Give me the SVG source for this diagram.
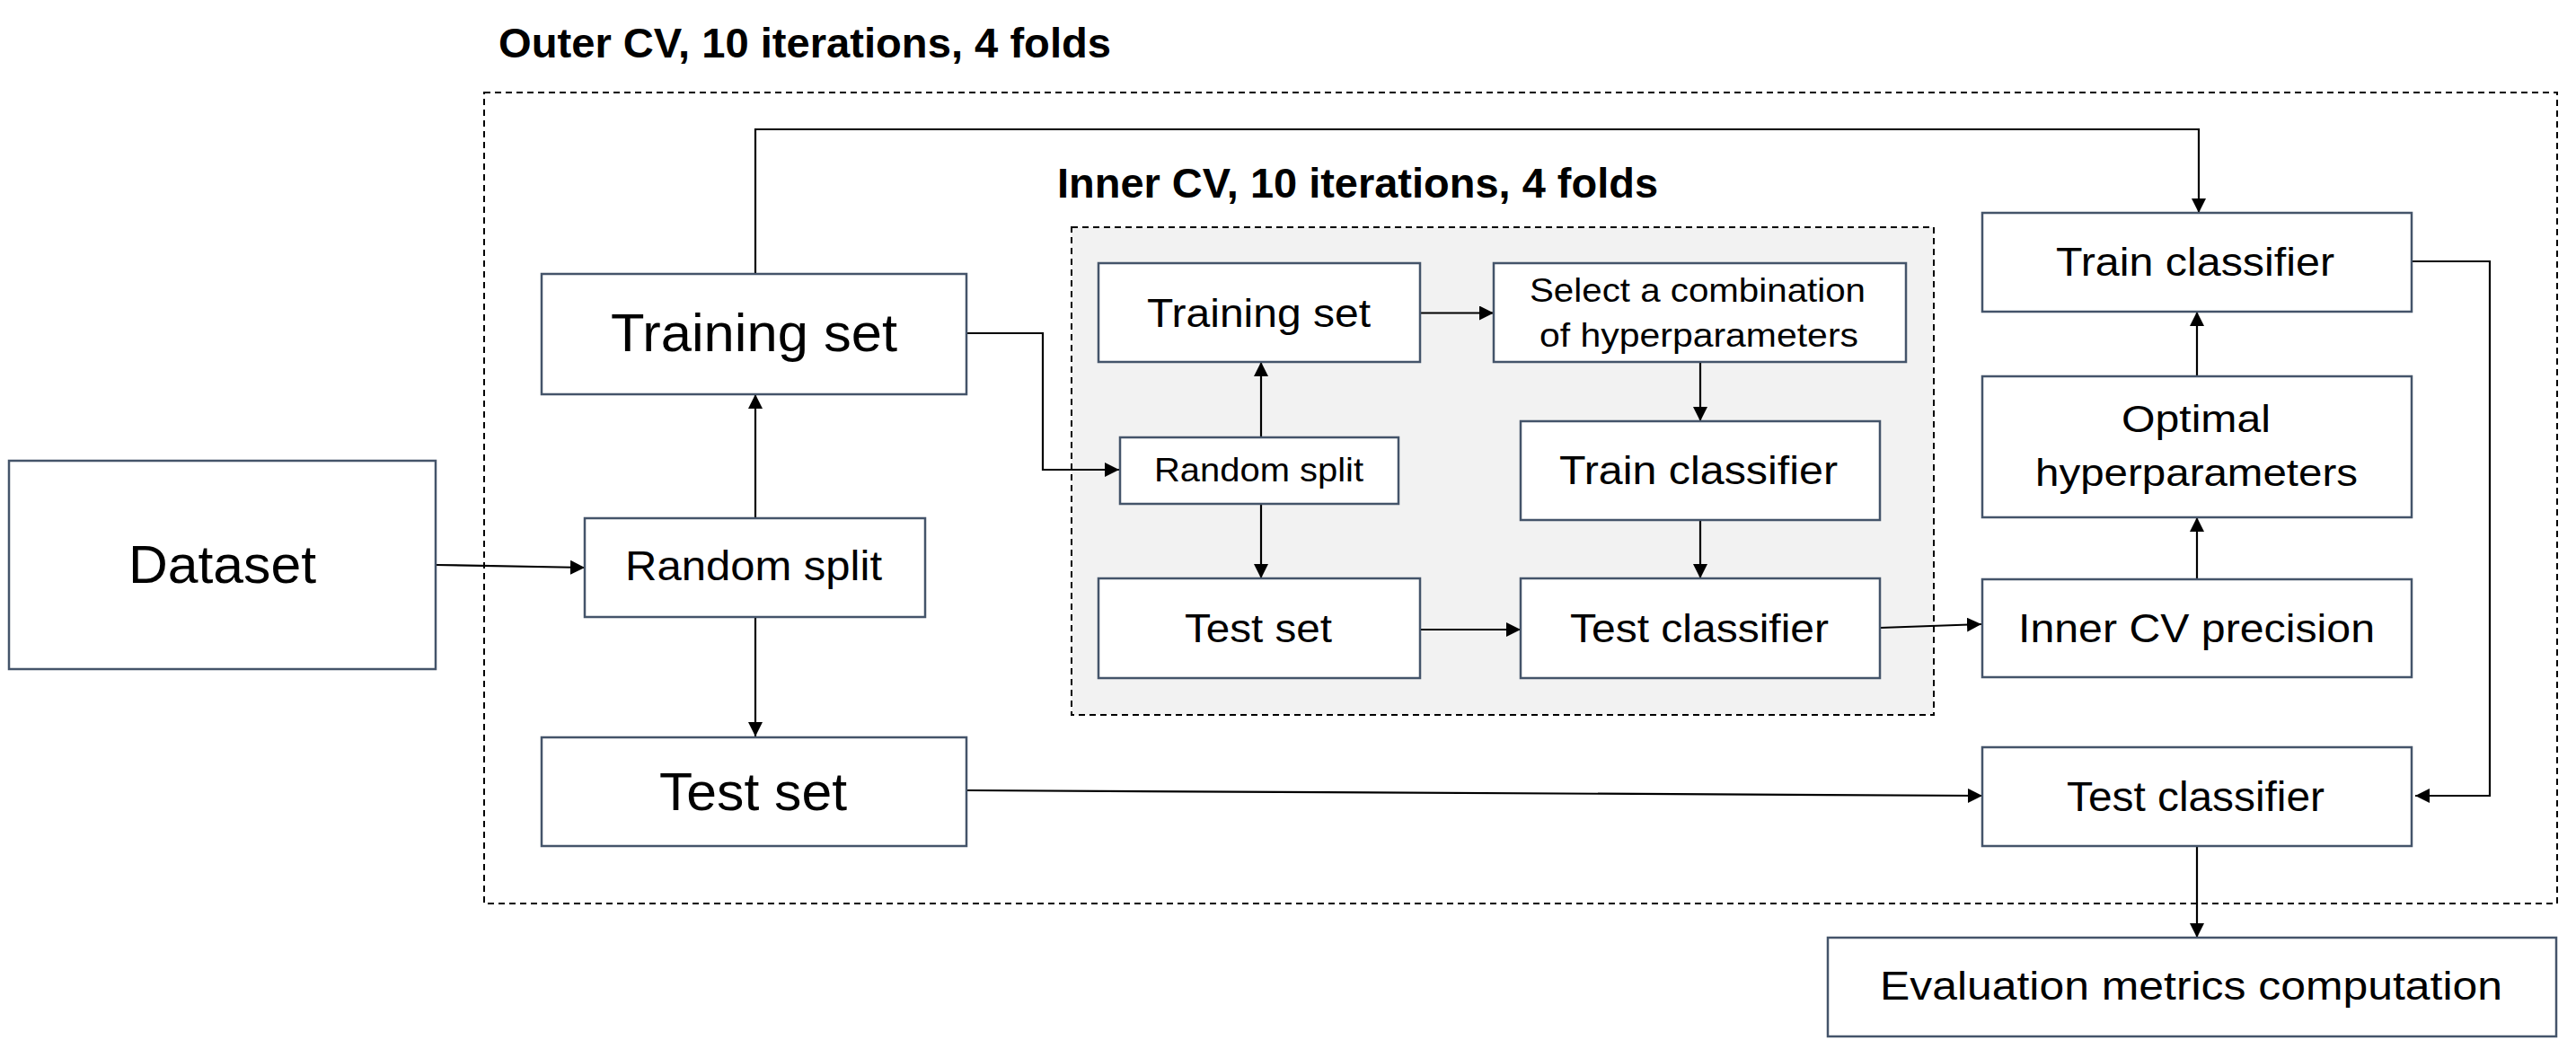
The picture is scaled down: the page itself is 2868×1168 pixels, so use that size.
<svg xmlns="http://www.w3.org/2000/svg" width="2868" height="1168" viewBox="0 0 2868 1168">
<style>
.box{fill:#ffffff;stroke:#44546A;stroke-width:2.5}
.t{font-family:"Liberation Sans",Arial,sans-serif;fill:#000000}
.title{font-family:"Liberation Sans",Arial,sans-serif;font-weight:bold;font-size:46px;fill:#000000}
.frame{fill:none;stroke:#000000;stroke-width:2;stroke-dasharray:7 5}
.c{fill:none;stroke:#000000;stroke-width:2.2}
</style>
<defs>
<marker id="arr" viewBox="0 0 16 16" refX="16" refY="8" markerWidth="16" markerHeight="16" markerUnits="userSpaceOnUse" orient="auto">
<path d="M0,0 L16,8 L0,16 z" fill="#000000"/>
</marker>
</defs>
<rect width="2868" height="1168" fill="#ffffff"/>

<g id="outer-cv">
<rect class="frame" x="539" y="103" width="2308" height="903"/>
<text class="title" x="555" y="64" textLength="682" lengthAdjust="spacingAndGlyphs">Outer CV, 10 iterations, 4 folds</text>
</g>
<g id="inner-cv">
<rect class="frame" x="1193" y="253" width="960" height="543" fill="#F2F2F2" style="fill:#F2F2F2"/>
<text class="title" x="1177" y="220" textLength="669" lengthAdjust="spacingAndGlyphs">Inner CV, 10 iterations, 4 folds</text>
</g>

<g id="connectors">
<path class="c" d="M485,629 L651,632" marker-end="url(#arr)"/>
<path class="c" d="M841,577 L841,439" marker-end="url(#arr)"/>
<path class="c" d="M841,687 L841,820" marker-end="url(#arr)"/>
<path class="c" d="M841,304 L841,144 L2448,144 L2448,237" marker-end="url(#arr)"/>
<path class="c" d="M1076,371 L1161,371 L1161,523 L1246,523" marker-end="url(#arr)"/>
<path class="c" d="M1404,487 L1404,403" marker-end="url(#arr)"/>
<path class="c" d="M1404,561 L1404,644" marker-end="url(#arr)"/>
<path class="c" d="M1581,348.5 L1663,348.5" marker-end="url(#arr)"/>
<path class="c" d="M1893,403 L1893,469" marker-end="url(#arr)"/>
<path class="c" d="M1893,579 L1893,644" marker-end="url(#arr)"/>
<path class="c" d="M1581,701 L1693,701" marker-end="url(#arr)"/>
<path class="c" d="M2093,699 L2206,695" marker-end="url(#arr)"/>
<path class="c" d="M2446,645 L2446,576" marker-end="url(#arr)"/>
<path class="c" d="M2446,419 L2446,347" marker-end="url(#arr)"/>
<path class="c" d="M2685,291 L2772,291 L2772,886 L2689,886" marker-end="url(#arr)"/>
<path class="c" d="M1076,880 L2207,886" marker-end="url(#arr)"/>
<path class="c" d="M2446,942 L2446,1044" marker-end="url(#arr)"/>
</g>

<g id="dataset">
<rect class="box" x="10" y="513" width="475" height="232"/>
<text class="t" x="143" y="649" font-size="60" textLength="209" lengthAdjust="spacingAndGlyphs">Dataset</text>
</g>
<g id="outer-random-split">
<rect class="box" x="651" y="577" width="379" height="110"/>
<text class="t" x="696" y="646" font-size="46" textLength="286" lengthAdjust="spacingAndGlyphs">Random split</text>
</g>
<g id="outer-training-set">
<rect class="box" x="603" y="305" width="473" height="134"/>
<text class="t" x="680" y="391" font-size="60" textLength="319" lengthAdjust="spacingAndGlyphs">Training set</text>
</g>
<g id="outer-test-set">
<rect class="box" x="603" y="821" width="473" height="121"/>
<text class="t" x="734" y="902" font-size="60" textLength="209" lengthAdjust="spacingAndGlyphs">Test set</text>
</g>

<g id="inner-training-set">
<rect class="box" x="1223" y="293" width="358" height="110"/>
<text class="t" x="1277" y="364" font-size="45" textLength="249" lengthAdjust="spacingAndGlyphs">Training set</text>
</g>
<g id="select-hyperparameters">
<rect class="box" x="1663" y="293" width="459" height="110"/>
<text class="t" x="1703" y="336" font-size="37" textLength="374" lengthAdjust="spacingAndGlyphs">Select a combination</text>
<text class="t" x="1714" y="386" font-size="37" textLength="355" lengthAdjust="spacingAndGlyphs">of hyperparameters</text>
</g>
<g id="inner-random-split">
<rect class="box" x="1247" y="487" width="310" height="74"/>
<text class="t" x="1285" y="536" font-size="37" textLength="233" lengthAdjust="spacingAndGlyphs">Random split</text>
</g>
<g id="inner-train-classifier">
<rect class="box" x="1693" y="469" width="400" height="110"/>
<text class="t" x="1736" y="539" font-size="45" textLength="310" lengthAdjust="spacingAndGlyphs">Train classifier</text>
</g>
<g id="inner-test-set">
<rect class="box" x="1223" y="644" width="358" height="111"/>
<text class="t" x="1319" y="715" font-size="45" textLength="164" lengthAdjust="spacingAndGlyphs">Test set</text>
</g>
<g id="inner-test-classifier">
<rect class="box" x="1693" y="644" width="400" height="111"/>
<text class="t" x="1748" y="715" font-size="45" textLength="288" lengthAdjust="spacingAndGlyphs">Test classifier</text>
</g>

<g id="outer-train-classifier">
<rect class="box" x="2207" y="237" width="478" height="110"/>
<text class="t" x="2289" y="307" font-size="44" textLength="310" lengthAdjust="spacingAndGlyphs">Train classifier</text>
</g>
<g id="optimal-hyperparameters">
<rect class="box" x="2207" y="419" width="478" height="157"/>
<text class="t" x="2362" y="481" font-size="42" textLength="166" lengthAdjust="spacingAndGlyphs">Optimal</text>
<text class="t" x="2266" y="541" font-size="42" textLength="359" lengthAdjust="spacingAndGlyphs">hyperparameters</text>
</g>
<g id="inner-cv-precision">
<rect class="box" x="2207" y="645" width="478" height="109"/>
<text class="t" x="2247" y="715" font-size="44" textLength="397" lengthAdjust="spacingAndGlyphs">Inner CV precision</text>
</g>
<g id="outer-test-classifier">
<rect class="box" x="2207" y="832" width="478" height="110"/>
<text class="t" x="2301" y="903" font-size="46" textLength="287" lengthAdjust="spacingAndGlyphs">Test classifier</text>
</g>
<g id="evaluation-metrics">
<rect class="box" x="2035" y="1044" width="811" height="110"/>
<text class="t" x="2093" y="1113" font-size="45" textLength="693" lengthAdjust="spacingAndGlyphs">Evaluation metrics computation</text>
</g>
</svg>
